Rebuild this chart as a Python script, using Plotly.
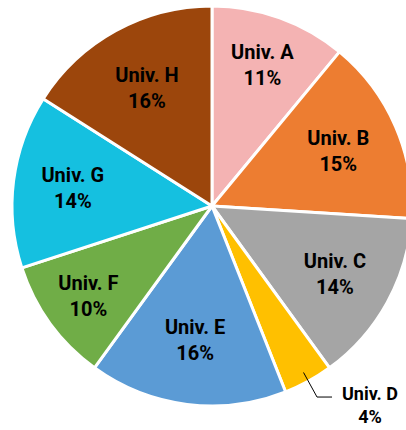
import math
import plotly.graph_objects as go

labels = ["Univ. A", "Univ. B", "Univ. C", "Univ. D", "Univ. E", "Univ. F", "Univ. G", "Univ. H"]
values = [11, 15, 14, 4, 16, 10, 14, 16]
colors = ["#F4B3B3", "#ED7D31", "#A5A5A5", "#FFC000", "#5B9BD5", "#70AD47", "#15C0E0", "#9C460C"]
outside_label = "Univ. D"

W, H = 412, 430
ML, MR, MT, MB = 12, 0, 6, 24
pw, ph = W - ML - MR, H - MT - MB
R = min(pw, ph) / 2
cx, cy = ML + pw / 2, MT + ph / 2

def to_paper(px, py):
    return (px - ML) / pw, (H - MB - py) / ph

templates = ["" if l == outside_label else "%{label}<br>%{value}%" for l in labels]

fig = go.Figure(go.Pie(
    labels=labels, values=values, sort=False, direction="clockwise", rotation=0,
    marker=dict(colors=colors, line=dict(color="white", width=3)),
    texttemplate=templates, textposition="inside",
    insidetextorientation="horizontal",
    insidetextfont=dict(family="Roboto", size=20, color="black", weight="bold"),
    hoverinfo="label+percent", showlegend=False,
))

# leader line and label for the small slice
total = sum(values)
idx = labels.index(outside_label)
cum = sum(values[:idx])
theta = 2 * math.pi * (cum + values[idx] / 2) / total
p1 = (cx + 0.95 * R * math.sin(theta), cy - 0.95 * R * math.cos(theta))
p2 = (cx + 1.09 * R * math.sin(theta), cy - 1.09 * R * math.cos(theta))
p3 = (p2[0] + 15, p2[1])
pts = [to_paper(*p) for p in (p1, p2, p3)]
path = "M {} {} L {} {} L {} {}".format(pts[0][0], pts[0][1], pts[1][0], pts[1][1], pts[2][0], pts[2][1])
fig.add_shape(type="path", path=path, xref="paper", yref="paper", line=dict(color="black", width=1))
ax, ay = to_paper(p3[0] + 8, p3[1] + 8)
fig.add_annotation(x=ax, y=ay, xref="paper", yref="paper", xanchor="left", yanchor="middle",
                   text="{}<br>{}%".format(outside_label, values[idx]), showarrow=False, align="center",
                   font=dict(family="Roboto", size=18, color="black", weight="bold"))

fig.update_layout(width=W, height=H, margin=dict(l=ML, r=MR, t=MT, b=MB),
                  paper_bgcolor="white", plot_bgcolor="white")
fig.write_html("out.html", config={"displayModeBar": False}, post_script=(
    "document.body.style.margin='0';"
    "document.body.style.overflow='hidden';"
    "document.documentElement.style.overflow='hidden';"))
